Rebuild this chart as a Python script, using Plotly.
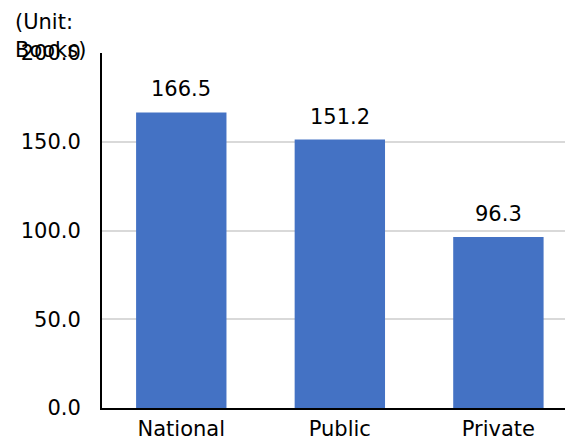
import plotly.graph_objects as go

categories = ["National", "Public", "Private"]
values = [166.5, 151.2, 96.3]
y_ticks = [0, 50, 100, 150, 200]
y_tick_labels = ["0.0", "50.0", "100.0", "150.0", "200.0"]

FONT = "DejaVu Sans"
FS = 21
L, R, T, B = 102, 0, 53, 33
W, H = 565, 441

fig = go.Figure(go.Bar(
    x=[0, 1, 2], y=values,
    marker=dict(color="#4472C4", line=dict(width=0)),
    width=0.57,
    hoverinfo="skip",
))

for i, v in enumerate(values):
    fig.add_annotation(
        x=i, y=v, xref="x", yref="y", text=f"{v:.1f}", showarrow=False,
        yanchor="bottom", yshift=9,
        font=dict(family=FONT, size=FS, color="#000000"),
    )

fig.update_layout(
    width=W, height=H,
    margin=dict(l=L, r=R, t=T, b=B),
    paper_bgcolor="white", plot_bgcolor="white",
    showlegend=False,
    font=dict(family=FONT, size=FS, color="#000000"),
    xaxis=dict(
        range=[-0.5, 2.42],
        tickvals=[0, 1, 2], ticktext=categories,
        showgrid=False, showline=True, linecolor="#000000", linewidth=2,
        ticks="", ticklabelstandoff=1, automargin=False,
        tickfont=dict(family=FONT, size=FS, color="#000000"),
        zeroline=False,
    ),
    yaxis=dict(
        range=[0, 200],
        tickvals=y_ticks, ticktext=y_tick_labels,
        showgrid=True, gridcolor="#d9d9d9", gridwidth=1.5,
        showline=True, linecolor="#000000", linewidth=2,
        ticks="", ticklabelstandoff=15, automargin=False,
        tickfont=dict(family=FONT, size=FS, color="#000000"),
        zeroline=False,
    ),
)

def px_to_paper(px, py):
    return (px - L) / (W - L - R), (H - B - py) / (H - T - B)

for txt, py in [("(Unit:", 22), ("Books)", 50)]:
    xp, yp = px_to_paper(13, py)
    fig.add_annotation(
        text=txt, x=xp, y=yp, xref="paper", yref="paper", showarrow=False,
        xanchor="left", yanchor="middle", align="left",
        font=dict(family=FONT, size=FS, color="#000000"),
    )

fig.write_html("out.html")
